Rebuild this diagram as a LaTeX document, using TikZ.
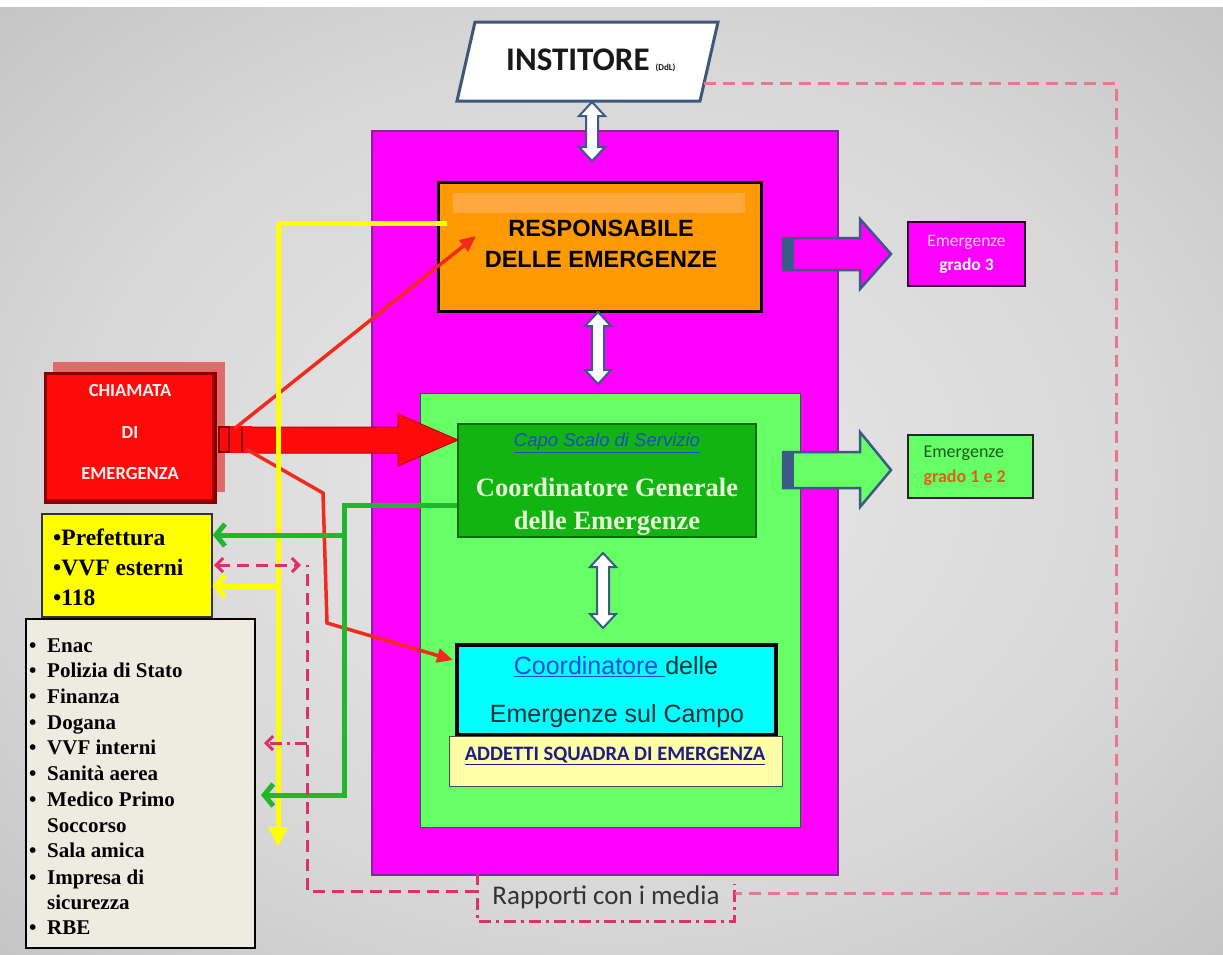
\documentclass[tikz,border=0pt]{standalone}
\usepackage{fontspec}
\setmainfont{Liberation Serif}
\newfontfamily\arialf{Liberation Sans}
\newfontfamily\calf{Carlito}
\usetikzlibrary{arrows.meta,calc}
\definecolor{bgA}{HTML}{E8E8E8}
\definecolor{bgB}{HTML}{D8D8D8}
\definecolor{bgC}{HTML}{B0B0B0}
\definecolor{bgD}{HTML}{929292}
\definecolor{magf}{HTML}{FF00FF}
\definecolor{magd}{HTML}{7A2A9A}
\definecolor{orf}{HTML}{FF9A05}
\definecolor{orhi}{HTML}{FFA840}
\definecolor{lgreen}{HTML}{66FF66}
\definecolor{dgreen}{HTML}{12B412}
\definecolor{dgreend}{HTML}{0B6B0B}
\definecolor{cyanf}{HTML}{00FFFF}
\definecolor{addf}{HTML}{FFFFA8}
\definecolor{slate}{HTML}{3B5A85}
\definecolor{redf}{HTML}{FF0A0A}
\definecolor{redd}{HTML}{8A0000}
\definecolor{redsh}{HTML}{E06A6A}
\definecolor{redline}{HTML}{F22A1E}
\definecolor{yell}{HTML}{FFFF00}
\definecolor{grl}{HTML}{22B52E}
\definecolor{pinkd}{HTML}{E0306A}
\definecolor{pinkl}{HTML}{E8788E}
\definecolor{listf}{HTML}{EEEBE0}
\definecolor{capob}{HTML}{1F4AC8}
\definecolor{cget}{HTML}{E8F6D8}
\definecolor{cdark}{HTML}{163036}
\definecolor{cblue}{HTML}{2A4AD8}
\definecolor{addt}{HTML}{1C1C90}
\definecolor{pinkt}{HTML}{F6D2F4}
\definecolor{g12t}{HTML}{1A5A1A}
\definecolor{g12o}{HTML}{E0601A}
\definecolor{instb}{HTML}{3F5878}
\pgfdeclareradialshading{bgshade}{\pgfpoint{0bp}{0bp}}{color(0bp)=(bgA); color(22bp)=(bgB); color(50bp)=(bgC); color(75bp)=(bgD)}
\newcommand{\setfs}[2]{\fontsize{#1}{#2}\selectfont}
\newcommand{\udarr}[3]{\draw[udarrow] (#1,#2) -- ++(13,14) -- ++(-7,0) -- (#1+6,#3-14) -- ++(7,0) -- (#1,#3) -- ++(-13,-14) -- ++(7,0) -- (#1-6,#2+14) -- ++(-7,0) -- cycle;}
\tikzset{
  box/.style={rectangle, inner sep=0pt},
  udarrow/.style={fill=white, draw=slate, line width=2pt, line join=miter},
  blockarr/.style={draw=slate, line width=2.5pt, line join=miter},
  yline/.style={draw=yell, line width=5pt},
  gline/.style={draw=grl, line width=5pt},
  rline/.style={draw=redline, line width=3.5pt, -{Triangle[length=16pt,width=14pt]}},
  pdash/.style={draw=pinkd, line width=3pt, dash pattern=on 12pt off 7pt},
  pdashdot/.style={draw=pinkd, line width=3pt, dash pattern=on 12pt off 5pt on 3pt off 5pt},
  barb/.style={-{Straight Barb[length=9pt,width=22pt]}},
  pbarb/.style={-{Straight Barb[length=7pt,width=14pt]}},
}
\begin{document}
\begin{tikzpicture}[x=1pt,y=-1pt]
\useasboundingbox (0,0) rectangle (1223,954);
\fill[white] (0,0) rectangle (1223,954);
\shade[shading=bgshade] (0,7) rectangle (1223,954);

% ---- main containers ----
\node[box, fill=magf, draw=magd, line width=1.2pt, minimum width=466, minimum height=744] (mag) at (605,503) {};
\node[box, fill=orf, draw=black, line width=3.5pt, minimum width=323, minimum height=129] (resp) at (600,247) {};
\fill[orhi] (453,193) rectangle (745,213);
\node[font=\arialf\bfseries\setfs{23.5}{31}, align=center] (resptxt) at (601,244) {RESPONSABILE\\DELLE EMERGENZE};

\node[box, fill=lgreen, draw=green!50!black, line width=1pt, minimum width=380, minimum height=434] (gbig) at (610,610) {};
\node[box, fill=dgreen, draw=dgreend, line width=1.5pt, minimum width=298, minimum height=113] (cge) at (607,480.5) {};
\node[font=\arialf\itshape\setfs{18.5}{18.5}, text=capob] (capo) at (607,443) {\underline{Capo Scalo di Servizio}};
\node[font=\bfseries\setfs{26.5}{33}, text=cget, align=center] (cgetxt) at (607,507) {Coordinatore Generale\\delle Emergenze};

\node[box, fill=cyanf, draw=black, line width=3.5pt, minimum width=319, minimum height=90] (cec) at (616.5,690) {};
\node[font=\arialf\setfs{25}{25}, text=cdark] (cec1) at (616,667) {{\color{cblue}\underline{Coordinatore\ }}delle};
\node[font=\arialf\setfs{25}{25}, text=cdark] (cec2) at (617,716) {Emergenze sul Campo};

\node[box, fill=addf, draw=black!70, line width=1pt, minimum width=333, minimum height=50] (add) at (615.5,761) {};
\node[font=\calf\bfseries\setfs{20.5}{20.5}, text=addt] (addtxt) at (615,756) {\underline{ADDETTI SQUADRA DI EMERGENZA}};

% ---- INSTITORE ----
\draw[fill=white, draw=instb, line width=3pt, line join=miter] (475,22) -- (718,22) -- (700,101) -- (457,101) -- cycle;
\node[anchor=base west, inner sep=0pt, font=\calf\bfseries, text=black!90] (inst) at (506,70) {{\setfs{33}{33}INSTITORE}\hspace{6pt}{\setfs{9}{9}(DdL)}};
\coordinate (instR) at (704,83);

% ---- up/down double arrows ----
\udarr{592}{102}{161}
\udarr{598}{312}{384}
\udarr{603}{553}{628}

% ---- right block arrows ----
\draw[blockarr, fill=magf] (783,238) -- (860,238) -- (860,219) -- (891,254) -- (860,289) -- (860,270) -- (783,270) -- cycle;
\fill[slate] (783,238) rectangle (794,270);
\draw[blockarr, fill=lgreen] (783,452) -- (860,452) -- (860,432) -- (891,470) -- (860,507) -- (860,488) -- (783,488) -- cycle;
\fill[slate] (783,452) rectangle (794,488);

\node[box, fill=magf, draw=black!80!magf, line width=2.5pt, minimum width=117, minimum height=64] (g3) at (966.5,254) {};
\node[font=\calf\setfs{17.5}{24}, align=center] (g3t) at (966.5,254) {{\color{pinkt}Emergenze}\\{\bfseries\color{white}grado 3}};
\node[box, fill=lgreen, draw=black!85, line width=2.5pt, minimum width=125, minimum height=63] (g12) at (970.5,466.5) {};
\node[font=\calf\setfs{18}{25}, align=left, anchor=west] (g12t) at (920,466) {{\color{g12t}Emergenze}\\{\bfseries\color{g12o}grado 1 e 2}};

% ---- CHIAMATA ----
\fill[redsh] (53,362) rectangle (225,492);
\node[box, fill=redf, draw=redd, line width=3pt, minimum width=170, minimum height=129] (chiam) at (130,437.5) {};
\draw[red!65!black, line width=2.5pt] (213,375) -- (213,500) -- (47,500);
\node[font=\calf\bfseries\setfs{18.5}{41.5}, text=red!6, align=center] (chiamt) at (130,432) {CHIAMATA\\DI\\EMERGENZA};

% ---- yellow box ----
\node[box, fill=yell, draw=black!80, line width=1.5pt, minimum width=170, minimum height=103] (yel) at (127,565.5) {};
\foreach \t/\yb in {Prefettura/545, VVF esterni/575, 118/605}
  \node[anchor=base west, inner sep=0pt, font=\bfseries\setfs{23.5}{23.5}] (y\yb) at (53,\yb) {\textbullet\t};

% ---- list box ----
\node[box, fill=listf, draw=black, line width=2pt, minimum width=229, minimum height=329] (blist) at (140.5,783.5) {};
\foreach \b/\t/\yb in {1/Enac/652, 1/Polizia di Stato/677, 1/Finanza/703, 1/Dogana/729, 1/VVF interni/754, 1/Sanità aerea/780, 1/Medico Primo/806, 0/Soccorso/832, 1/Sala amica/857, 1/Impresa di/884, 0/sicurezza/909, 1/RBE/934}
  \node[anchor=base west, inner sep=0pt, font=\bfseries\setfs{21}{21}] (l\yb) at (29,\yb) {\ifnum\b=1 \makebox[18pt][l]{\textbullet}\else\hspace*{18pt}\fi\t};

% ---- big red arrow ----
\fill[redf] (218,426) rectangle (252,453);
\draw[redd, line width=2pt] (219,427) rectangle (229,452);
\draw[redd, line width=2pt] (242,427) -- (242,452);
\draw[draw=red!75!black, fill=redf, line width=1pt, line join=miter] (252,427) -- (398,427) -- (398,414) -- (458,440) -- (398,466) -- (398,453) -- (252,453);

% ---- thin red arrows ----
\coordinate (rs1) at (234,429);
\coordinate (rs2) at (246,449);
\draw[rline] (rs1) -- (476,236);
\draw[rline] (rs2) -- (323,493) -- (327,623) -- (453,660);

% ---- yellow connector ----
\coordinate (yv) at (278,223);
\draw[yline, -{Triangle[length=20pt,width=18pt]}] (447,223) -- (yv) -- (278,847);
\draw[yline, barb] (278,586) -- (yel.east |- 0,586);

% ---- green connector ----
\draw[gline, barb] (cge.west |- 0,505) -- (344,505) -- (344,795) -- (261,795);
\draw[gline, barb] (344,535) -- (yel.east |- 0,535);

% ---- pink dashed ----
\node[font=\calf\setfs{27}{27}, text=black!80, minimum width=257, minimum height=48, inner sep=0pt] (rap) at (606,897) {Rapporti con i media};
\draw[pdashdot] (rap.north west) -- (rap.south west) -- (rap.south east) -- (rap.north east |- 0,884);
\draw[pdash, draw=pinkl] (instR) -- (1116,83) -- (1116,893) -- (rap.east |- 0,893);
\draw[pdash] (rap.west |- 0,891) -- (307,891) -- (307,565);
\draw[pdash, {Straight Barb[length=7pt,width=14pt]}-{Straight Barb[length=7pt,width=14pt]}] (214,565) -- (301,565);
\draw[pdashdot, pbarb] (307,743) -- (264,743);
\end{tikzpicture}
\end{document}
